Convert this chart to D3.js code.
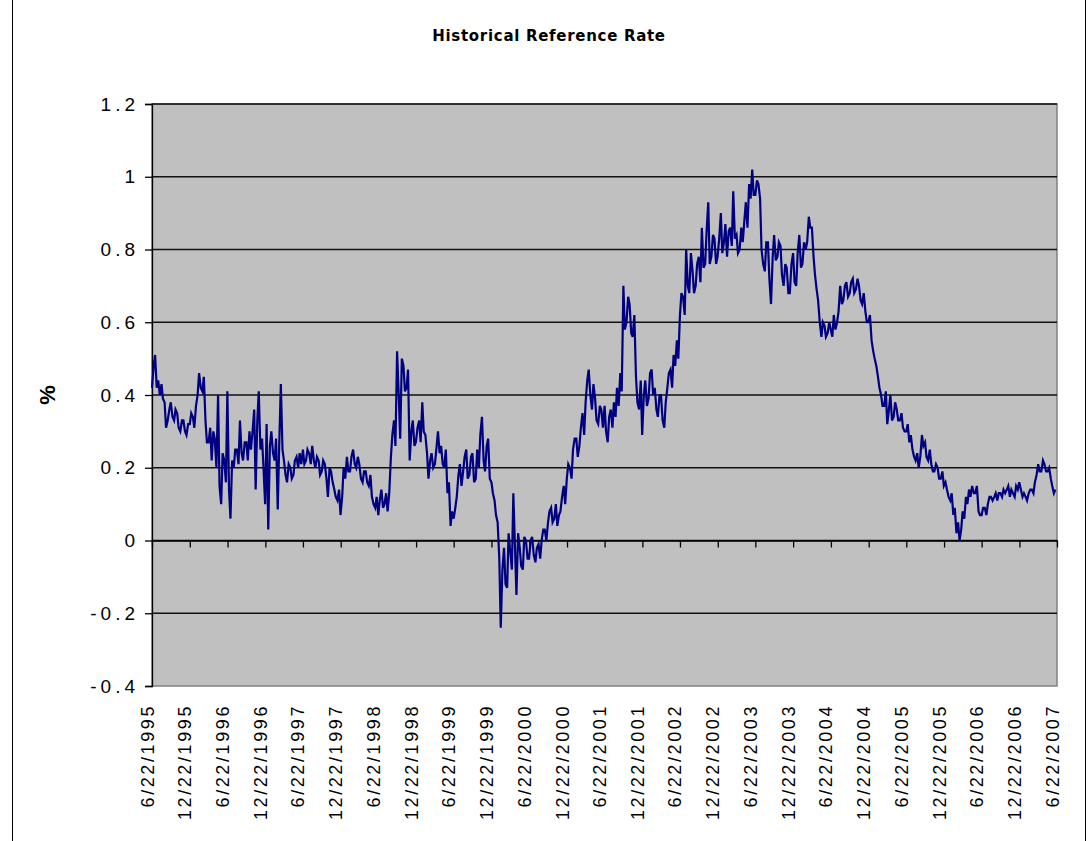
<!DOCTYPE html>
<html>
<head>
<meta charset="utf-8">
<script src="https://cdn.jsdelivr.net/npm/d3@7"></script>
<style>
  body { margin: 0; background: #fff; }
  svg { display: block; }
</style>
</head>
<body>
<div id="chart"></div>
<script>
// semi-monthly readings, each array runs from one 6/22 to the next.
// ratesYYYY holds the main reading of each half month, swingYYYY the
// other extreme seen inside the same half month (the fuzz of the daily line)
const rates1995 = [0.42, 0.51, 0.44, 0.43, 0.38, 0.33, 0.38, 0.33, 0.35, 0.30, 0.33, 0.29, 0.32, 0.34, 0.37, 0.46, 0.41, 0.33, 0.27, 0.22, 0.28, 0.40, 0.10, 0.22];
const rates1996 = [0.41, 0.06, 0.20, 0.25, 0.33, 0.22, 0.27, 0.30, 0.30, 0.14, 0.41, 0.28, 0.10, 0.03, 0.30, 0.22, 0.085, 0.43, 0.22, 0.16, 0.20, 0.18, 0.23, 0.24];
const rates1997 = [0.25, 0.22, 0.24, 0.26, 0.20, 0.22, 0.19, 0.21, 0.12, 0.19, 0.14, 0.11, 0.07, 0.20, 0.23, 0.19, 0.25, 0.20, 0.21, 0.16, 0.19, 0.15, 0.12, 0.09];
const rates1998 = [0.07, 0.14, 0.10, 0.08, 0.23, 0.33, 0.52, 0.28, 0.48, 0.42, 0.22, 0.33, 0.27, 0.33, 0.38, 0.29, 0.17, 0.24, 0.21, 0.30, 0.26, 0.20, 0.13, 0.04];
const rates1999 = [0.06, 0.12, 0.21, 0.19, 0.25, 0.18, 0.24, 0.17, 0.20, 0.34, 0.19, 0.28, 0.16, 0.11, 0.05, -0.24, -0.02, -0.13, -0.03, 0.13, -0.15, -0.02, -0.08, 0.00];
const rates2000 = [-0.05, 0.01, -0.06, -0.01, 0.00, 0.03, 0.05, 0.09, 0.06, 0.04, 0.08, 0.15, 0.17, 0.20, 0.25, 0.28, 0.26, 0.35, 0.38, 0.47, 0.36, 0.39, 0.32, 0.36];
const rates2001 = [0.37, 0.27, 0.36, 0.38, 0.42, 0.46, 0.70, 0.60, 0.65, 0.56, 0.45, 0.36, 0.29, 0.44, 0.39, 0.47, 0.42, 0.34, 0.40, 0.31, 0.42, 0.47, 0.51, 0.55];
const rates2002 = [0.62, 0.67, 0.80, 0.68, 0.74, 0.70, 0.78, 0.86, 0.76, 0.93, 0.78, 0.83, 0.78, 0.90, 0.82, 0.78, 0.86, 0.96, 0.84, 0.80, 0.82, 0.93, 0.98, 1.02];
const rates2003 = [0.95, 0.98, 0.80, 0.74, 0.82, 0.65, 0.84, 0.78, 0.81, 0.70, 0.75, 0.68, 0.79, 0.70, 0.84, 0.76, 0.80, 0.89, 0.86, 0.73, 0.66, 0.56, 0.59, 0.57];
const rates2004 = [0.58, 0.62, 0.60, 0.70, 0.66, 0.71, 0.68, 0.72, 0.69, 0.70, 0.65, 0.63, 0.60, 0.55, 0.50, 0.45, 0.40, 0.37, 0.32, 0.40, 0.34, 0.36, 0.33, 0.31];
const rates2005 = [0.30, 0.27, 0.25, 0.22, 0.20, 0.29, 0.27, 0.22, 0.21, 0.19, 0.20, 0.17, 0.15, 0.14, 0.11, 0.07, 0.02, 0.00, 0.08, 0.12, 0.14, 0.15, 0.13, 0.08];
const rates2006 = [0.07, 0.09, 0.10, 0.12, 0.12, 0.11, 0.13, 0.14, 0.14, 0.12, 0.13, 0.15, 0.16, 0.12, 0.12, 0.13, 0.14, 0.16, 0.21, 0.19, 0.21, 0.19, 0.17, 0.13];

const swing1995 = [0.48, 0.42, 0.40, 0.39, 0.31, 0.36, 0.34, 0.36, 0.31, 0.33, 0.30, 0.32, 0.35, 0.31, 0.40, 0.42, 0.45, 0.27, 0.31, 0.30, 0.20, 0.15, 0.24, 0.16];
const swing1996 = [0.14, 0.22, 0.25, 0.21, 0.24, 0.27, 0.22, 0.25, 0.36, 0.33, 0.25, 0.20, 0.32, 0.26, 0.24, 0.28, 0.26, 0.25, 0.18, 0.21, 0.17, 0.22, 0.20, 0.21];
const swing1997 = [0.21, 0.25, 0.21, 0.22, 0.23, 0.18, 0.22, 0.17, 0.20, 0.16, 0.12, 0.14, 0.12, 0.17, 0.19, 0.23, 0.21, 0.23, 0.17, 0.19, 0.16, 0.18, 0.10, 0.12];
const swing1998 = [0.11, 0.09, 0.13, 0.13, 0.29, 0.26, 0.40, 0.50, 0.41, 0.47, 0.30, 0.26, 0.31, 0.27, 0.30, 0.24, 0.22, 0.20, 0.25, 0.24, 0.21, 0.25, 0.16, 0.08];
const swing1999 = [0.09, 0.18, 0.15, 0.23, 0.17, 0.23, 0.16, 0.25, 0.29, 0.22, 0.26, 0.17, 0.13, 0.07, -0.05, -0.08, -0.12, 0.02, -0.08, -0.02, 0.02, -0.07, 0.01, -0.05];
const swing2000 = [0.00, -0.04, -0.02, -0.05, 0.03, 0.00, 0.08, 0.05, 0.10, 0.07, 0.12, 0.10, 0.21, 0.17, 0.28, 0.23, 0.31, 0.29, 0.44, 0.40, 0.43, 0.33, 0.37, 0.31];
const swing2001 = [0.30, 0.34, 0.31, 0.34, 0.37, 0.41, 0.58, 0.67, 0.57, 0.62, 0.38, 0.44, 0.40, 0.37, 0.46, 0.40, 0.36, 0.40, 0.33, 0.38, 0.46, 0.42, 0.48, 0.50];
const swing2002 = [0.68, 0.62, 0.70, 0.79, 0.68, 0.76, 0.71, 0.75, 0.85, 0.76, 0.84, 0.76, 0.83, 0.79, 0.87, 0.85, 0.81, 0.83, 0.79, 0.86, 0.88, 0.86, 0.94, 0.95];
const swing2003 = [0.99, 0.94, 0.76, 0.82, 0.72, 0.78, 0.77, 0.82, 0.73, 0.76, 0.68, 0.76, 0.71, 0.79, 0.75, 0.82, 0.82, 0.86, 0.78, 0.69, 0.60, 0.60, 0.56, 0.60];
const swing2004 = [0.56, 0.58, 0.63, 0.65, 0.70, 0.67, 0.71, 0.68, 0.72, 0.66, 0.68, 0.60, 0.62, 0.52, 0.48, 0.42, 0.37, 0.41, 0.36, 0.33, 0.38, 0.33, 0.35, 0.30];
const swing2005 = [0.32, 0.29, 0.23, 0.24, 0.23, 0.26, 0.23, 0.25, 0.19, 0.21, 0.17, 0.19, 0.16, 0.12, 0.13, 0.09, 0.05, 0.03, 0.06, 0.10, 0.12, 0.13, 0.15, 0.07];
const swing2006 = [0.09, 0.07, 0.12, 0.11, 0.13, 0.13, 0.12, 0.13, 0.15, 0.14, 0.12, 0.14, 0.14, 0.13, 0.11, 0.14, 0.13, 0.18, 0.19, 0.22, 0.19, 0.20, 0.15, 0.14];

const xTickLabels = [
  '6/22/1995', '12/22/1995', '6/22/1996', '12/22/1996', '6/22/1997', '12/22/1997',
  '6/22/1998', '12/22/1998', '6/22/1999', '12/22/1999', '6/22/2000', '12/22/2000',
  '6/22/2001', '12/22/2001', '6/22/2002', '12/22/2002', '6/22/2003', '12/22/2003',
  '6/22/2004', '12/22/2004', '6/22/2005', '12/22/2005', '6/22/2006', '12/22/2006',
  '6/22/2007'
];
const yTicks = [1.2, 1, 0.8, 0.6, 0.4, 0.2, 0, -0.2, -0.4];
const yTickLabels = ['1.2', '1', '0.8', '0.6', '0.4', '0.2', '0', '-0.2', '-0.4'];

const title = 'Historical Reference Rate';
const yTitle = '%';

const width = 1090;
const height = 841;
const plot = { left: 152, right: 1057, top: 104, bottom: 686 };
const fontFamily = 'Arial, "Liberation Sans", Helvetica, sans-serif';

const parseDate = d3.timeParse('%m/%d/%Y');
const tickDates = xTickLabels.map(parseDate);
const startDate = tickDates[0];
const endDate = tickDates[tickDates.length - 1];

const rates = [].concat(rates1995, rates1996, rates1997, rates1998, rates1999, rates2000,
  rates2001, rates2002, rates2003, rates2004, rates2005, rates2006);
const swings = [].concat(swing1995, swing1996, swing1997, swing1998, swing1999, swing2000,
  swing2001, swing2002, swing2003, swing2004, swing2005, swing2006);

// readings are evenly spaced, 24 per year; the swing sits mid-way in its half month
const stepDays = (endDate - startDate) / 86400000 / rates.length;
const series = [];
rates.forEach((v, i) => {
  series.push({ date: d3.timeDay.offset(startDate, Math.round(i * stepDays)), value: v });
  series.push({ date: d3.timeDay.offset(startDate, Math.round((i + 0.5) * stepDays)), value: swings[i] });
});

const x = d3.scaleTime()
  .domain([startDate, endDate])
  .range([plot.left, plot.right]);

const y = d3.scaleLinear()
  .domain([-0.4, 1.2])
  .range([plot.bottom, plot.top]);

const svg = d3.select('#chart')
  .append('svg')
  .attr('width', width)
  .attr('height', height);

// chart area frame
svg.append('rect')
  .attr('x', 12.5)
  .attr('y', -2)
  .attr('width', 1073)
  .attr('height', height + 10)
  .attr('fill', '#fff')
  .attr('stroke', '#000')
  .attr('stroke-width', 1);

svg.append('text')
  .attr('x', 549)
  .attr('y', 41)
  .attr('text-anchor', 'middle')
  .style('font-family', '"DejaVu Sans", sans-serif')
  .style('font-weight', 'bold')
  .style('font-size', '15px')
  .style('letter-spacing', '0.7px')
  .text(title);

// plot area
svg.append('rect')
  .attr('x', plot.left)
  .attr('y', plot.top)
  .attr('width', plot.right - plot.left)
  .attr('height', plot.bottom - plot.top)
  .attr('fill', '#c0c0c0')
  .attr('stroke', '#808080')
  .attr('stroke-width', 1.5);

// gridlines
svg.append('g')
  .selectAll('line')
  .data(yTicks.filter((d) => d !== -0.4))
  .enter()
  .append('line')
  .attr('x1', plot.left)
  .attr('x2', plot.right)
  .attr('y1', (d) => y(d))
  .attr('y2', (d) => y(d))
  .attr('stroke', '#111')
  .attr('stroke-width', 1.5);

// value axis
const yAxis = svg.append('g')
  .attr('transform', `translate(${plot.left},0)`)
  .call(d3.axisLeft(y)
    .tickValues(yTicks)
    .tickFormat((d, i) => yTickLabels[i])
    .tickSize(7)
    .tickPadding(6));

yAxis.select('.domain').attr('stroke', '#000').attr('stroke-width', 1.3);
yAxis.selectAll('.tick line').attr('stroke', '#000').attr('stroke-width', 1.3);
yAxis.selectAll('.tick text')
  .style('font-family', fontFamily)
  .style('font-size', '19px')
  .style('letter-spacing', '4px')
  .attr('fill', '#000');

svg.append('text')
  .attr('transform', `translate(55,${(plot.top + plot.bottom) / 2}) rotate(-90)`)
  .attr('text-anchor', 'middle')
  .style('font-family', fontFamily)
  .style('font-weight', 'bold')
  .style('font-size', '22px')
  .text(yTitle);

// category axis crosses at zero
const xAxis = svg.append('g')
  .attr('transform', `translate(0,${y(0)})`)
  .call(d3.axisBottom(x)
    .tickValues(tickDates)
    .tickFormat('')
    .tickSize(7)
    .tickSizeOuter(0));

xAxis.select('.domain').attr('stroke', '#000').attr('stroke-width', 1.5);
xAxis.selectAll('.tick line').attr('stroke', '#000').attr('stroke-width', 1.3);

svg.append('g')
  .selectAll('text')
  .data(tickDates)
  .enter()
  .append('text')
  .attr('transform', (d) => `translate(${x(d) + 1.5},704) rotate(-90)`)
  .attr('text-anchor', 'end')
  .style('font-family', fontFamily)
  .style('font-size', '18px')
  .style('letter-spacing', '2.6px')
  .text((d, i) => xTickLabels[i]);

const line = d3.line()
  .x((d) => x(d.date))
  .y((d) => y(d.value));

svg.append('path')
  .datum(series)
  .attr('d', line)
  .attr('fill', 'none')
  .attr('stroke', '#000080')
  .attr('stroke-width', 2.2)
  .attr('stroke-linejoin', 'miter');
</script>
</body>
</html>
